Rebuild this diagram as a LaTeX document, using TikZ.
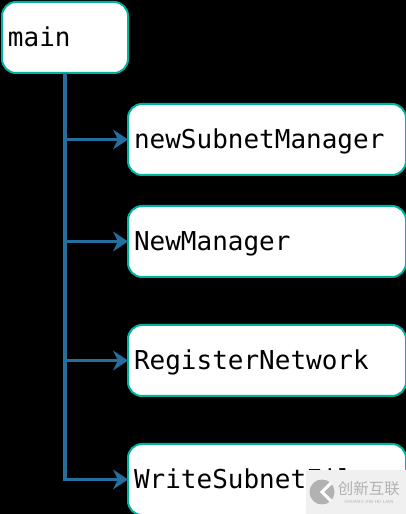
\documentclass[tikz,border=0pt]{standalone}
\usepackage{fontspec}
\setmainfont{DejaVu Sans}
\setmonofont{DejaVu Sans Mono}
\newfontfamily\cjkfont{Noto Sans CJK SC}
\usepackage{xcolor}
\usetikzlibrary{arrows.meta,positioning}
\definecolor{cvbox}{RGB}{0,178,160}
\definecolor{cvarr}{RGB}{36,110,160}
\definecolor{cvmark}{RGB}{240,240,240}
\definecolor{cvink}{RGB}{178,178,178}
\begin{document}
\begin{tikzpicture}[
  x=1pt,y=1pt,
  font=\fontsize{26}{30}\selectfont\ttfamily,
  box/.style={draw=cvbox,fill=white,line width=2pt,rounded corners=14pt,align=left,outer sep=0pt,
    inner xsep=6pt,inner ysep=0pt,text height=22pt,text depth=3pt,minimum height=71pt},
  wide/.style={box,text width=266pt},
  arr/.style={-{Stealth[length=15pt,width=20pt,inset=5pt]},line width=3.5pt,cvarr}
]
\useasboundingbox (0,0) rectangle (406,514);
\fill[black] (0,0) rectangle (406,514);
\node[box,text width=114pt,anchor=north west] (main) at (2,512) {main};
\node[wide,below right=31pt and 0pt of main.south east] (subnet) {newSubnetManager};
\node[wide,below=31pt of subnet.south west,anchor=north west] (manager) {NewManager};
\node[wide,below=48pt of manager.south west,anchor=north west] (register) {RegisterNetwork};
\node[wide,below=48pt of register.south west,anchor=north west] (write) {WriteSubnetFile};
\draw[arr] (main.south)|-(subnet.west);
\draw[arr] (main.south)|-(manager.west);
\draw[arr] (main.south)|-(register.west);
\draw[arr] (main.south)|-(write.west);
% watermark
\node[fill=cvmark,minimum width=100pt,minimum height=44pt,outer sep=0pt,inner sep=0pt,anchor=south east] (mark) at (406,0) {};
\node[circle,fill=cvink,minimum size=25pt,inner sep=0pt] (logo) at (322,22) {};
\draw[white,line width=3pt] (logo.north east)--(logo.center)--(logo.south east);
\node[font=\fontsize{15.5}{17}\selectfont\cjkfont,text=cvink,inner sep=0pt,right=3pt of logo.east,yshift=3pt] (cn) {创新互联};
\node[font=\fontsize{4.5}{5}\selectfont\sffamily,text=cvink,inner sep=0pt,below=4pt of cn] (en) {CHUANG XIN HU LIAN};
\end{tikzpicture}
\end{document}
